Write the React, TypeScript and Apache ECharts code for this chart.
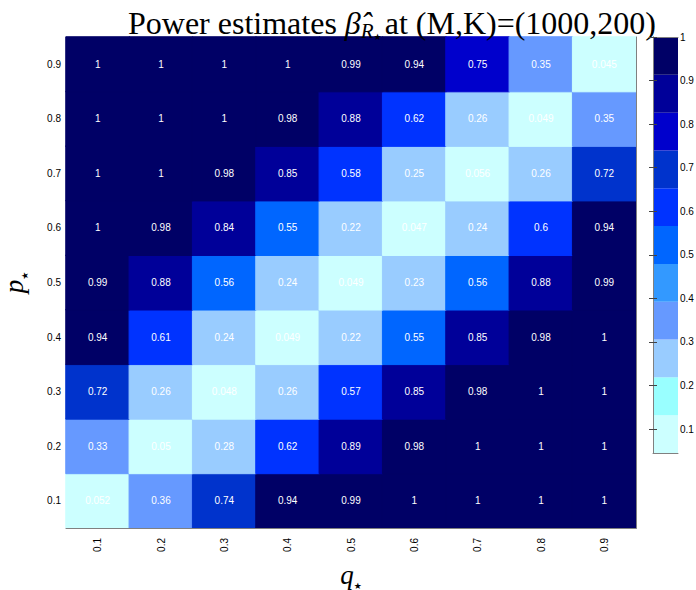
import React, { useEffect, useRef } from 'react';
import * as echarts from 'echarts';

// q* categories (x) and p* categories (y, bottom to top)
const qLabels = ['0.1', '0.2', '0.3', '0.4', '0.5', '0.6', '0.7', '0.8', '0.9'];
const pLabels = ['0.1', '0.2', '0.3', '0.4', '0.5', '0.6', '0.7', '0.8', '0.9'];

// Power estimates for each p* row, across q* = 0.1 .. 0.9
const powerP01 = [0.052, 0.36, 0.736, 0.94, 0.99, 1, 1, 1, 1];
const powerP02 = [0.33, 0.05, 0.28, 0.62, 0.89, 0.98, 1, 1, 1];
const powerP03 = [0.72, 0.26, 0.048, 0.26, 0.57, 0.85, 0.98, 1, 1];
const powerP04 = [0.94, 0.61, 0.24, 0.049, 0.22, 0.55, 0.85, 0.98, 1];
const powerP05 = [0.99, 0.88, 0.56, 0.24, 0.049, 0.23, 0.56, 0.88, 0.99];
const powerP06 = [1, 0.98, 0.84, 0.55, 0.22, 0.047, 0.24, 0.6, 0.94];
const powerP07 = [1, 1, 0.98, 0.85, 0.58, 0.25, 0.056, 0.26, 0.72];
const powerP08 = [1, 1, 1, 0.98, 0.88, 0.62, 0.26, 0.049, 0.35];
const powerP09 = [1, 1, 1, 1, 0.99, 0.94, 0.75, 0.35, 0.045];

// Colour scale
const colorbarTicks = [0.1, 0.2, 0.3, 0.4, 0.5, 0.6, 0.7, 0.8, 0.9, 1];
const bandColors = [
  '#CCFFFF', '#99FFFF', '#99CCFF', '#6699FF', '#3399FF', '#0066FF',
  '#0033FF', '#0033CC', '#0000CC', '#000099', '#000066',
];
const colorMin = 0.045;
const colorMax = 1;

const rows = [powerP01, powerP02, powerP03, powerP04, powerP05, powerP06, powerP07, powerP08, powerP09];

export default function App() {
  const ref = useRef<HTMLDivElement>(null);

  useEffect(() => {
    if (!ref.current) return;
    const chart = echarts.init(ref.current, undefined, { renderer: 'svg' });

    const step = (colorMax - colorMin) / bandColors.length;
    const bands = bandColors.map((c, i) => [colorMin + i * step, colorMin + (i + 1) * step, i]);
    const pieces = bands.map((b, i) => ({
      gte: i === 0 ? -1 : (b[0] as number),
      lt: i === bands.length - 1 ? 2 : (b[1] as number),
      color: bandColors[i],
    }));
    const colorFor = (v: number) => {
      const idx = Math.min(bandColors.length - 1, Math.max(0, Math.floor((v - colorMin) / step)));
      return bandColors[idx];
    };

    const heatData: any[] = [];
    rows.forEach((row, yi) =>
      row.forEach((v, xi) =>
        heatData.push({ value: [xi, yi, v], itemStyle: { borderColor: colorFor(v), borderWidth: 1 } })
      )
    );

    const sans = 'Liberation Sans, Arial, Helvetica, sans-serif';
    const serif = 'Liberation Serif, Times New Roman, serif';
    const frame = { show: true, lineStyle: { color: '#808080', width: 1 } };

    chart.setOption({
      animation: false,
      backgroundColor: '#ffffff',
      title: {
        left: 123,
        top: 0,
        text: '{a|Power estimates }{b|β̂}{r|R}{s|★}{a|at (M,K)=(1000,200)}',
        textStyle: {
          fontWeight: 'normal',
          rich: {
            a: { fontFamily: serif, fontWeight: 'normal', fontSize: 32, color: '#000', lineHeight: 36 },
            b: { fontFamily: serif, fontWeight: 'normal', fontStyle: 'italic', fontSize: 32, color: '#000', lineHeight: 36 },
            r: { fontFamily: serif, fontWeight: 'normal', fontStyle: 'italic', fontSize: 21, color: '#000', lineHeight: 20, verticalAlign: 'bottom' },
            s: { fontFamily: 'DejaVu Sans', fontWeight: 'normal', fontSize: 9, color: '#000', lineHeight: 13, verticalAlign: 'bottom', padding: [0, 3, 0, 0] },
          },
        },
      },
      visualMap: {
        type: 'piecewise',
        show: false,
        seriesIndex: 0,
        dimension: 2,
        pieces,
      },
      grid: [
        { left: 66, top: 37, width: 570, height: 491, outerBoundsMode: 'none', containLabel: false },
        { left: 653, top: 37, width: 25, height: 416, outerBoundsMode: 'none', containLabel: false },
      ],
      xAxis: [
        {
          type: 'category',
          gridIndex: 0,
          data: qLabels,
          z: 10,
          axisLine: frame,
          axisTick: { show: false },
          splitLine: { show: false },
          axisLabel: { rotate: 90, fontSize: 10, color: '#000', fontFamily: sans, margin: 10 },
          name: '{i|q}{s|★}',
          nameLocation: 'middle',
          nameGap: 32,
          nameTextStyle: {
            rich: {
              i: { fontFamily: serif, fontStyle: 'italic', fontSize: 27, color: '#000', lineHeight: 30 },
              s: { fontFamily: 'DejaVu Sans', fontSize: 9, color: '#000', lineHeight: 12, verticalAlign: 'bottom' },
            },
          },
        },
        {
          type: 'value', gridIndex: 1, min: 0, max: 1, z: 10,
          axisLine: frame, axisTick: { show: false }, axisLabel: { show: false }, splitLine: { show: false },
        },
        {
          type: 'value', gridIndex: 1, min: 0, max: 1, position: 'top', z: 10,
          axisLine: frame, axisTick: { show: false }, axisLabel: { show: false }, splitLine: { show: false },
        },
      ],
      yAxis: [
        {
          type: 'category',
          gridIndex: 0,
          data: pLabels,
          axisLine: { show: false },
          axisTick: { show: false },
          splitLine: { show: false },
          axisLabel: { fontSize: 10, color: '#000', fontFamily: sans, margin: 5 },
          name: '{i|p}{s|★}',
          nameLocation: 'middle',
          nameGap: 37,
          nameRotate: 90,
          nameTextStyle: {
            rich: {
              i: { fontFamily: serif, fontStyle: 'italic', fontSize: 27, color: '#000', lineHeight: 30 },
              s: { fontFamily: 'DejaVu Sans', fontSize: 9, color: '#000', lineHeight: 12, verticalAlign: 'bottom' },
            },
          },
        },
        {
          type: 'category', gridIndex: 0, data: pLabels, position: 'right', z: 10,
          axisLine: frame, axisTick: { show: false }, axisLabel: { show: false }, splitLine: { show: false },
        },
        {
          type: 'value', gridIndex: 1, min: colorMin, max: colorMax, position: 'right', z: 10,
          axisLine: frame,
          axisTick: { show: true, inside: true, length: 4, customValues: colorbarTicks, lineStyle: { color: '#444' } },
          axisLabel: { show: true, customValues: colorbarTicks, fontSize: 10, color: '#000', fontFamily: sans, margin: 2,
            formatter: (v: number) => String(Number(v.toFixed(2))) },
          splitLine: { show: false },
        },
        {
          type: 'value', gridIndex: 1, min: colorMin, max: colorMax, position: 'left', z: 10,
          axisLine: frame,
          axisTick: { show: true, inside: true, length: 4, customValues: colorbarTicks, lineStyle: { color: '#444' } },
          axisLabel: { show: false },
          splitLine: { show: false },
        },
      ],
      series: [
        {
          type: 'heatmap',
          xAxisIndex: 0,
          yAxisIndex: 0,
          data: heatData,
          label: {
            show: true,
            color: '#ffffff',
            fontSize: 10,
            fontFamily: sans,
            formatter: (p: any) => String(Number((p.value[2] as number).toPrecision(2))),
          },
        },
        {
          type: 'custom',
          xAxisIndex: 1,
          yAxisIndex: 2,
          data: bands,
          renderItem: (_params: any, api: any) => {
            const p1 = api.coord([0, api.value(1)]);
            const p2 = api.coord([1, api.value(0)]);
            return {
              type: 'rect',
              shape: { x: p1[0], y: p1[1], width: p2[0] - p1[0], height: p2[1] - p1[1] },
              style: { fill: bandColors[api.value(2)] },
            };
          },
        },
      ],
    });

    return () => chart.dispose();
  }, []);

  return <div ref={ref} style={{ position: 'fixed', left: 0, top: 0, width: 696, height: 590 }} />;
}
